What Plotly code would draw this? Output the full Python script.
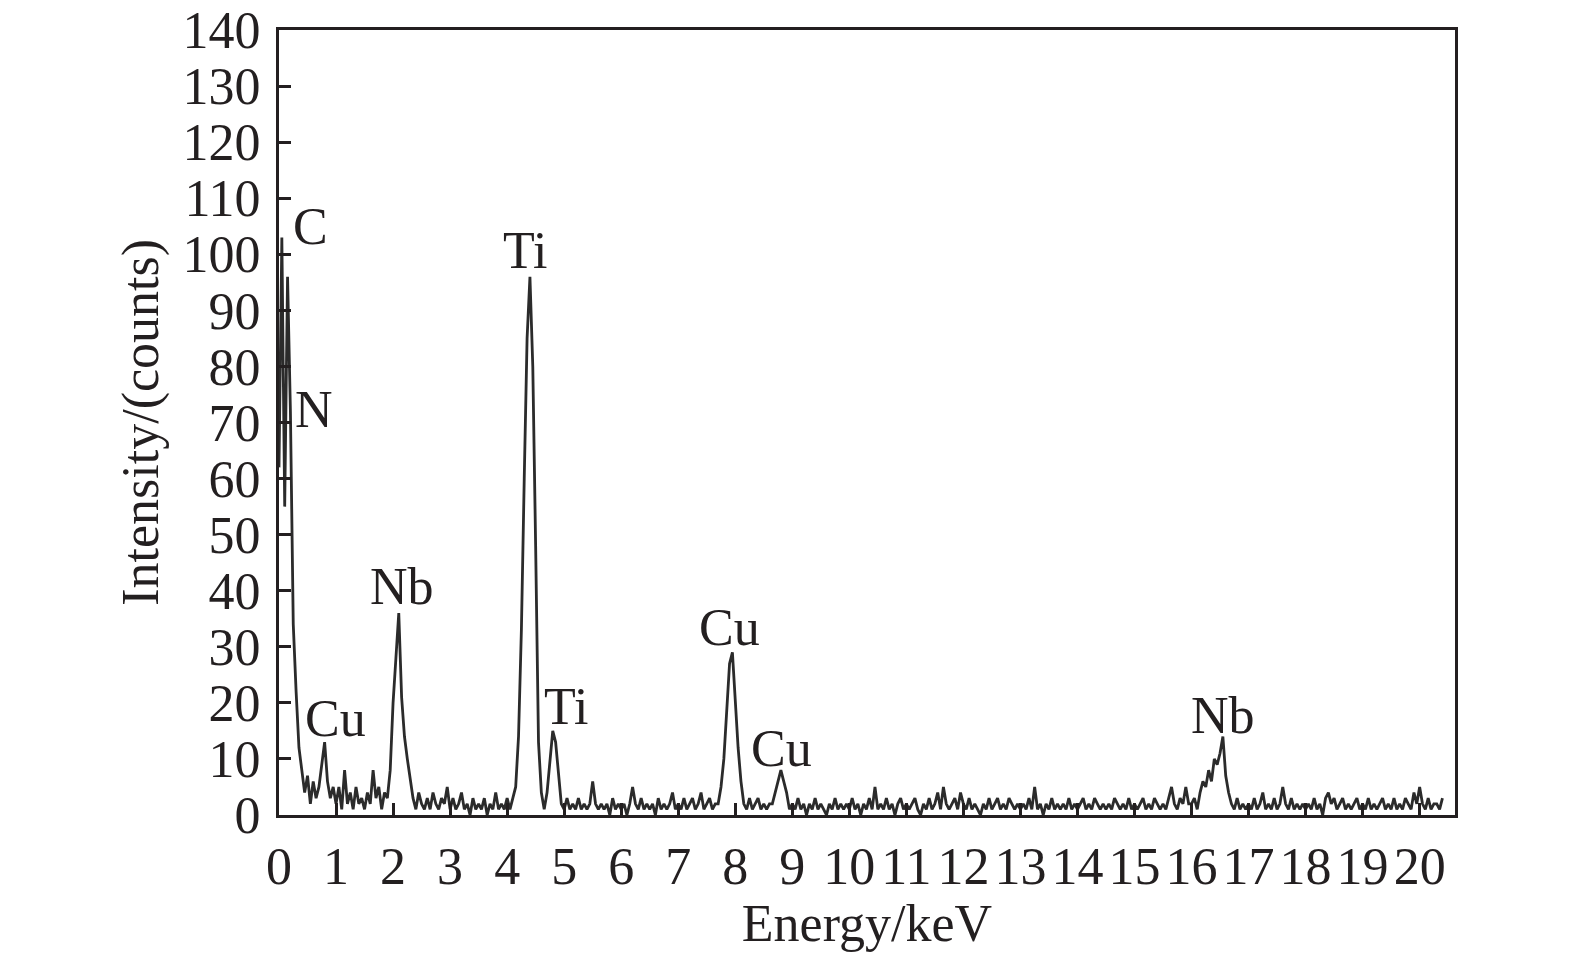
import plotly.graph_objects as go

# EDS spectrum, one channel every 0.05 keV starting at 0 keV
CHANNEL_WIDTH_KEV = 0.05
counts_0 = [62, 103, 55, 96, 72, 34, 22, 12, 8, 4, 7, 2, 6, 3, 5, 9, 13, 6, 3, 5]
counts_1 = [2, 5, 1, 8, 2, 4, 1, 5, 2, 3, 1, 4, 2, 8, 3, 5, 1, 4, 3, 8]
counts_2 = [20, 28, 36, 21, 14, 10, 6, 3, 1, 4, 2, 1, 3, 1, 4, 2, 1, 3, 2, 5]
counts_3 = [1, 3, 1, 2, 4, 1, 2, 0, 3, 1, 2, 1, 3, 0, 2, 1, 4, 1, 2, 1]
counts_4 = [3, 1, 3, 5, 14, 33, 60, 85, 96, 80, 48, 13, 4, 1, 4, 10, 15, 13, 8, 2]
counts_5 = [1, 3, 1, 2, 1, 3, 1, 2, 1, 2, 6, 2, 1, 2, 1, 2, 0, 3, 1, 2]
counts_6 = [1, 2, 0, 2, 5, 2, 1, 3, 1, 2, 1, 2, 0, 3, 1, 2, 1, 2, 4, 1]
counts_7 = [2, 1, 3, 1, 2, 3, 1, 2, 4, 1, 2, 3, 1, 2, 2, 5, 10, 18, 27, 29]
counts_8 = [20, 12, 6, 2, 1, 3, 1, 2, 3, 1, 2, 1, 2, 2, 4, 6, 8, 6, 4, 1]
counts_9 = [2, 1, 3, 1, 2, 0, 2, 1, 3, 1, 2, 1, 0, 2, 1, 3, 1, 2, 1, 2]
counts_10 = [1, 3, 1, 2, 0, 2, 1, 3, 1, 5, 1, 2, 1, 3, 1, 2, 0, 2, 3, 1]
counts_11 = [2, 1, 2, 3, 1, 0, 2, 1, 3, 1, 2, 4, 1, 5, 2, 1, 2, 3, 1, 4]
counts_12 = [2, 1, 3, 1, 2, 1, 0, 2, 1, 3, 1, 2, 3, 1, 2, 1, 3, 2, 1, 2]
counts_13 = [1, 2, 1, 3, 1, 5, 1, 2, 0, 2, 1, 3, 1, 2, 1, 2, 1, 3, 1, 2]
counts_14 = [1, 2, 3, 1, 2, 1, 3, 2, 1, 2, 1, 2, 1, 3, 2, 1, 2, 1, 3, 1]
counts_15 = [2, 1, 2, 3, 1, 2, 1, 3, 2, 1, 2, 1, 3, 5, 2, 1, 3, 2, 5, 2]
counts_16 = [2, 3, 1, 4, 6, 5, 8, 6, 10, 9, 11, 14, 7, 4, 2, 1, 3, 1, 2, 1]
counts_17 = [2, 1, 3, 1, 2, 4, 1, 2, 1, 3, 1, 2, 5, 2, 1, 3, 1, 2, 1, 2]
counts_18 = [1, 2, 1, 3, 1, 2, 0, 3, 4, 2, 3, 1, 2, 3, 1, 2, 1, 2, 3, 1]
counts_19 = [2, 1, 3, 1, 2, 1, 2, 3, 1, 2, 1, 3, 1, 2, 1, 3, 2, 1, 4, 2]
counts_20 = [5, 2, 1, 3, 1, 2, 2, 1, 3]

# Peak labels
label_text = ["C", "N", "Ti", "Nb", "Cu", "Ti", "Cu", "Cu", "Nb"]
label_x = [0.56, 0.61, 4.31, 2.16, 0.99, 5.04, 7.90, 8.81, 16.55]
label_y = [105.0, 72.4, 100.6, 40.8, 17.3, 19.4, 33.4, 11.9, 17.7]

x_ticks = list(range(0, 21))
y_ticks = list(range(0, 141, 10))

counts = (counts_0 + counts_1 + counts_2 + counts_3 + counts_4 + counts_5 + counts_6
          + counts_7 + counts_8 + counts_9 + counts_10 + counts_11 + counts_12
          + counts_13 + counts_14 + counts_15 + counts_16 + counts_17 + counts_18
          + counts_19 + counts_20)
energy = [round(i * CHANNEL_WIDTH_KEV, 3) for i in range(len(counts))]

INK = "#231f20"
FONT = "Liberation Serif"

fig = go.Figure()
fig.add_trace(go.Scatter(
    x=energy, y=counts, mode="lines",
    line=dict(color="#2b2b2b", width=2.8),
    showlegend=False, hoverinfo="x+y",
))

for t, x, y in zip(label_text, label_x, label_y):
    fig.add_annotation(x=x, y=y, text=t, showarrow=False,
                       xanchor="center", yanchor="middle",
                       font=dict(family=FONT, size=52, color=INK))

# y-axis title placed as a rotated paper annotation
fig.add_annotation(x=-0.118, y=0.5, xref="paper", yref="paper",
                   text="Intensity/(counts)", textangle=-90, showarrow=False,
                   xanchor="center", yanchor="middle",
                   font=dict(family=FONT, size=52, color=INK))

axis_common = dict(
    showline=True, linecolor=INK, linewidth=3, mirror=True,
    ticks="inside", ticklen=12, tickwidth=3, tickcolor=INK,
    showgrid=False, zeroline=False,
    tickfont=dict(family=FONT, size=52, color=INK),
    ticklabeloverflow="allow",
)

fig.update_xaxes(
    range=[0, 20.62], tickvals=x_ticks, ticktext=[str(v) for v in x_ticks],
    title=dict(text="Energy/keV", font=dict(family=FONT, size=52, color=INK), standoff=5),
    ticklabelstandoff=4,
    **axis_common,
)
fig.update_yaxes(
    range=[0, 140], tickvals=y_ticks, ticktext=[str(v) for v in y_ticks],
    ticklabelstandoff=5,
    **axis_common,
)

fig.update_layout(
    width=1575, height=958,
    margin=dict(l=279, r=120, t=30, b=143, autoexpand=False),
    paper_bgcolor="white", plot_bgcolor="white",
    font=dict(family=FONT, color=INK),
)

fig.write_html("out.html",
               config={"displayModeBar": False},
               post_script="document.body.style.margin='0px';document.body.style.overflow='hidden';")
